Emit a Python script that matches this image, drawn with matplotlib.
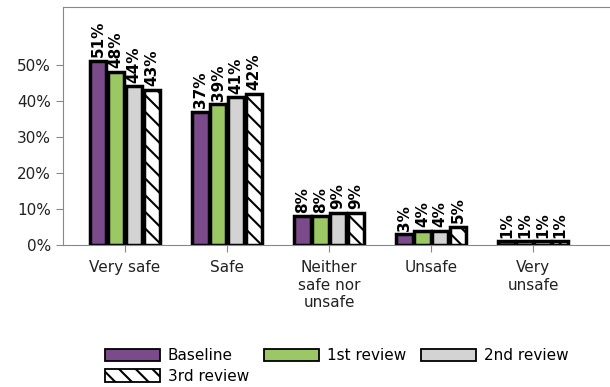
import matplotlib
matplotlib.use("Agg")
import matplotlib.pyplot as plt
import numpy as np

categories = ["Very safe", "Safe", "Neither\nsafe nor\nunsafe", "Unsafe", "Very\nunsafe"]
series_names = ["Baseline", "1st review", "2nd review", "3rd review"]
baseline = [51, 37, 8, 3, 1]
review1 = [48, 39, 8, 4, 1]
review2 = [44, 41, 9, 4, 1]
review3 = [43, 42, 9, 5, 1]
yticks = [0, 10, 20, 30, 40, 50]

plt.rcParams['hatch.linewidth'] = 1.5
colors = ["#7b4a8b", "#9bc864", "#d3d3d3", "white"]
hatches = [None, None, None, "\\\\"]

fig = plt.figure(figsize=(6.1, 3.87), dpi=100)
ax = fig.add_axes([0.103, 0.367, 0.897, 0.615])

x = np.arange(len(categories))
w = 0.16
step = 0.175
all_vals = [baseline, review1, review2, review3]
handles = []
for i, vals in enumerate(all_vals):
    pos = x + (i - 1.5) * step
    b = ax.bar(pos, vals, width=w, color=colors[i], edgecolor="black",
               linewidth=2.5, hatch=hatches[i], label=series_names[i])
    handles.append(b)
    for p, v in zip(pos, vals):
        ax.text(p, v + 1.0, f"{v}%", rotation=90, ha="center", va="bottom",
                fontsize=11, fontweight="bold")

ax.set_xlim(-0.61, 4.75)
ax.set_ylim(0, 66)
ax.set_yticks(yticks)
ax.set_yticklabels([f"{t}%" for t in yticks], fontsize=11)
ax.set_xticks(x)
ax.set_xticklabels(categories, fontsize=11)
for s in ax.spines.values():
    s.set_color("#888888")
ax.spines["right"].set_visible(False)
ax.tick_params(axis="both", colors="#888888", labelcolor="#222222", length=5)
ax.tick_params(axis="x", pad=6)

# legend fills by column, so reorder to read row by row
order = [0, 3, 1, 2]
leg = fig.legend([handles[k] for k in order], [series_names[k] for k in order],
                 loc="upper left", bbox_to_anchor=(0.172, 0.1), ncol=3, frameon=False,
                 fontsize=11, handlelength=3.6, handleheight=0.9, columnspacing=1.0,
                 handletextpad=0.5, labelspacing=0.35, borderaxespad=0, borderpad=0)
for p in leg.get_patches():
    p.set_linewidth(1.3)

fig.savefig("out.png", dpi=100)
